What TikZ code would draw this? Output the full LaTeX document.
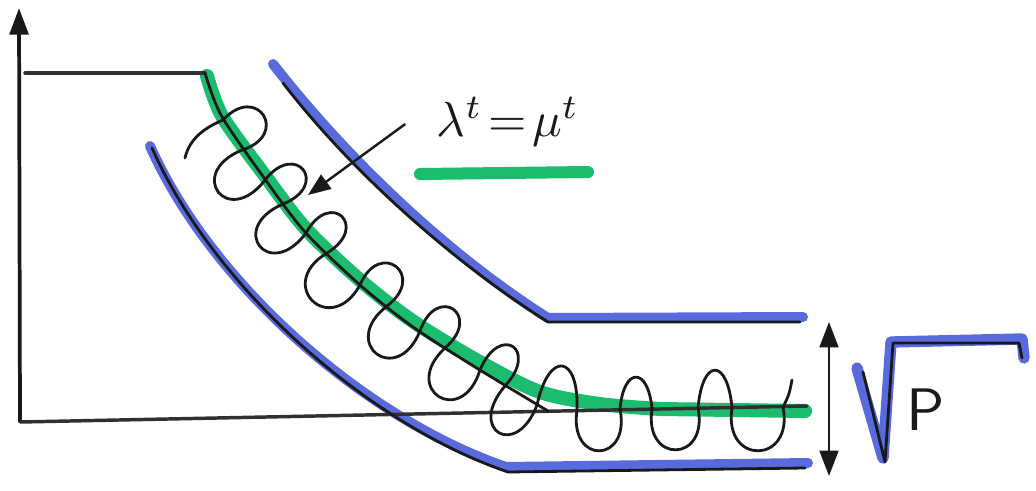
\documentclass[tikz,border=0pt]{standalone}
\usetikzlibrary{calc,arrows.meta}
\definecolor{mgreen}{RGB}{28,188,110}
\definecolor{mblue}{RGB}{60,80,215}
\definecolor{ink}{RGB}{25,25,25}
\begin{document}
\begin{tikzpicture}[x=0.75pt,y=-0.75pt,
  inkline/.style={draw=ink,line width=2.1pt,line cap=round,line join=round},
  axisline/.style={draw=ink!90,line width=2.6pt,line cap=round},
  bluestroke/.style={draw=mblue,line width=7.5pt,line cap=round,line join=round,opacity=0.85},
  greenstroke/.style={draw=mgreen,line width=10.5pt,line cap=round},
  helix/.style={draw=ink,line width=2.1pt,line cap=round,line join=round},
  pointer/.style={draw=ink,line width=1.8pt,-{Triangle[length=17pt,width=13pt]}},
  dblarrow/.style={draw=ink,line width=2pt,{Triangle[length=19pt,width=14pt]}-{Triangle[length=19pt,width=14pt]}},
  yarrow/.style={draw=ink,line width=2.8pt,-{Triangle[length=20pt,width=14pt]}},
]
\fill[white] (0,0) rectangle (1036,490);
\useasboundingbox (0,0) rectangle (1036,490);

% ---- coordinates
\coordinate (O) at (20,422);
\coordinate (Ytop) at (19,8);
\coordinate (Xend) at (807,406);
\coordinate (T0) at (25,73);
\coordinate (T1) at (205,73);
\coordinate (CM) at (548,411);
% upper channel wall
\coordinate (u0) at (283,83);
\coordinate (u1) at (548,322);
\coordinate (u2) at (800,322);
\coordinate (bu0) at (273,64);
\coordinate (bu1) at (548,318);
\coordinate (bu2) at (803,317);
% lower channel wall
\coordinate (l0) at (152,148);
\coordinate (l1) at (508,472);
\coordinate (l2) at (805,468);
\coordinate (bl0) at (150,146);
\coordinate (bl1) at (506,467);
\coordinate (bl2) at (808,463);
% square root sign
\coordinate (s0) at (857,368);
\coordinate (s1) at (883,458);
\coordinate (s2) at (891,342);
\coordinate (s3) at (1022,339);
\coordinate (s4) at (1024,358);
\coordinate (r0) at (863,372);
\coordinate (r1) at (885,462);
\coordinate (r2) at (893,343);
\coordinate (r3) at (1019,343);
\coordinate (r4) at (1022,358);
% double arrow
\coordinate (da0) at (829,322);
\coordinate (da1) at (829,476);
% underline
\coordinate (g0) at (420,174);
\coordinate (g1) at (588,172);
% pointer tip
\coordinate (ptip) at (308,195);
% helix crossings
\coordinate (h0) at (185,158);
\coordinate (c1) at (223,120);
\coordinate (c2) at (242,150);
\coordinate (c3) at (265,180);
\coordinate (c4) at (283,204);
\coordinate (c5) at (306,233);
\coordinate (c6) at (327,253);
\coordinate (c7) at (360,285);
\coordinate (c8) at (387,306);
\coordinate (c9) at (420,331);
\coordinate (c10) at (445,348);
\coordinate (c11) at (480,370);
\coordinate (c12) at (505,386);
\coordinate (c13) at (537,405);
\coordinate (c14) at (577,410);
\coordinate (c15) at (620,409);
\coordinate (c16) at (652,409);
\coordinate (c17) at (698,408);
\coordinate (c18) at (732,408);
\coordinate (c19) at (783,407);
\coordinate (h1) at (792,380);

% ---- blue marker strokes
\draw[bluestroke] (bu0) .. controls (348,160) and (448,255) .. (bu1) -- (bu2);
\draw[bluestroke] (bl0) .. controls (213,287) and (368,420) .. (bl1) -- (bl2);
\draw[bluestroke, line width=8.5pt] (s0) -- (s1) -- (s2) -- (s3) -- (s4);

% ---- green band
\draw[greenstroke] plot[smooth] coordinates {(207,76) (222,116) (263,173) (306,229) (361,281) (414,322) (478,361) (540,392) (600,404) (660,409)} -- (805,411);
\draw[greenstroke, line width=9pt] (g0) -- (g1);

% ---- axes and black lines
\draw[yarrow] (O) -- (Ytop);
\draw[axisline] (O) -- (Xend);
\draw[axisline] (T0) -- (T1);
\draw[inkline] plot[smooth] coordinates {(T1) (221,115) (262,175) (305,232) (360,285) (413,327) (475,367) (CM)};
\draw[inkline] (u0) .. controls (350,170) and (450,260) .. (u1) -- (u2);
\draw[inkline] (l0) .. controls (215,290) and (370,425) .. (l1) -- (l2);
\draw[inkline] (r0) -- (r1) -- (r2) -- (r3) -- (r4);

% ---- helix
\draw[helix] (h0) .. controls +(5,-22) and +(-14,6) .. (c1)
  .. controls ($(c1)!38pt!105:(c2)$) and ($(c2)!38pt!-105:(c1)$) .. (c2)
  .. controls ($(c2)!46pt!-105:(c3)$) and ($(c3)!46pt!105:(c2)$) .. (c3)
  .. controls ($(c3)!38pt!105:(c4)$) and ($(c4)!38pt!-105:(c3)$) .. (c4)
  .. controls ($(c4)!46pt!-105:(c5)$) and ($(c5)!46pt!105:(c4)$) .. (c5)
  .. controls ($(c5)!38pt!105:(c6)$) and ($(c6)!38pt!-105:(c5)$) .. (c6)
  .. controls ($(c6)!46pt!-105:(c7)$) and ($(c7)!46pt!105:(c6)$) .. (c7)
  .. controls ($(c7)!38pt!105:(c8)$) and ($(c8)!38pt!-105:(c7)$) .. (c8)
  .. controls ($(c8)!46pt!-105:(c9)$) and ($(c9)!46pt!105:(c8)$) .. (c9)
  .. controls ($(c9)!38pt!105:(c10)$) and ($(c10)!38pt!-105:(c9)$) .. (c10)
  .. controls ($(c10)!46pt!-105:(c11)$) and ($(c11)!46pt!105:(c10)$) .. (c11)
  .. controls ($(c11)!38pt!100:(c12)$) and ($(c12)!38pt!-100:(c11)$) .. (c12)
  .. controls ($(c12)!44pt!-100:(c13)$) and ($(c13)!44pt!100:(c12)$) .. (c13)
  .. controls ($(c13)!42pt!85:(c14)$) and ($(c14)!42pt!-85:(c13)$) .. (c14)
  .. controls ($(c14)!42pt!-100:(c15)$) and ($(c15)!42pt!100:(c14)$) .. (c15)
  .. controls ($(c15)!32pt!85:(c16)$) and ($(c16)!32pt!-85:(c15)$) .. (c16)
  .. controls ($(c16)!42pt!-100:(c17)$) and ($(c17)!42pt!100:(c16)$) .. (c17)
  .. controls ($(c17)!38pt!85:(c18)$) and ($(c18)!38pt!-85:(c17)$) .. (c18)
  .. controls ($(c18)!44pt!-100:(c19)$) and ($(c19)!44pt!100:(c18)$) .. (c19)
  .. controls +(6,-12) .. (h1);

% ---- labels and arrows
\node[scale=3.7, text=ink] (lab) at (508,122) {$\lambda^{t}\!=\!\mu^{t}$};
\draw[pointer] ($(lab.west)+(-14,2)$) -- (ptip);
\draw[dblarrow] (da0) -- (da1);
\node[scale=4.5, text=ink] (P) at (926,410) {\sffamily P};
\end{tikzpicture}
\end{document}
